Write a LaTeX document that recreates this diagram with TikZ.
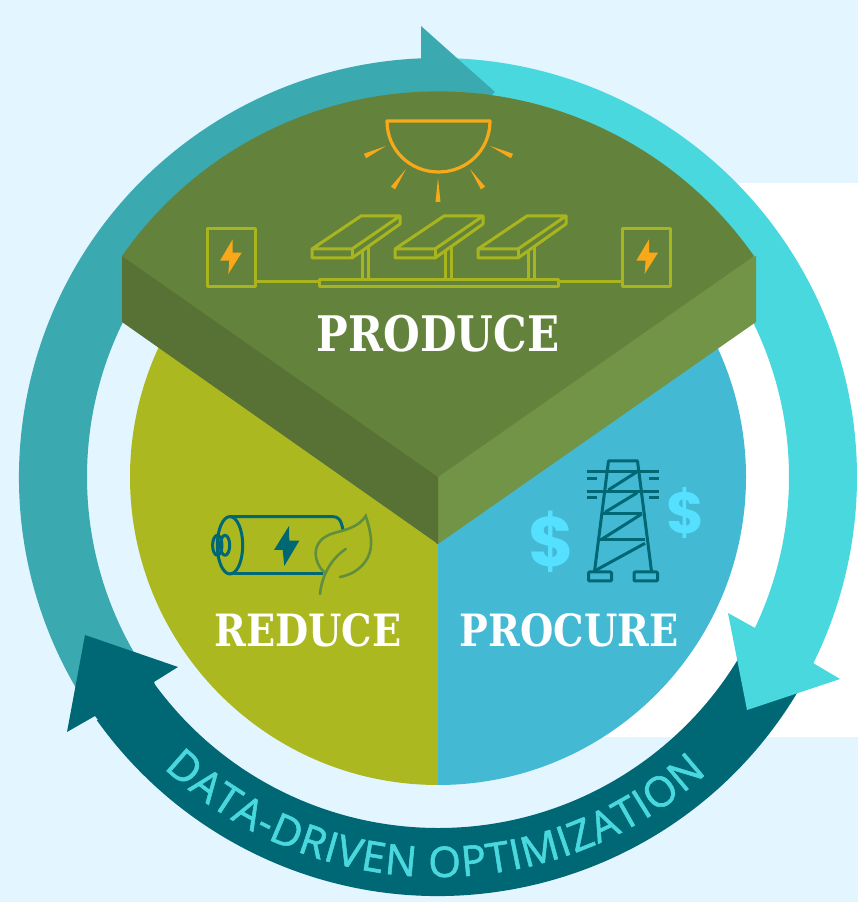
\documentclass[tikz,border=0pt]{standalone}
\usepackage{xcolor}
\usepackage{fontspec}
\usetikzlibrary{positioning, calc, decorations.text}
\setmainfont{DejaVu Serif}
\newfontfamily\ringfont{Open Sans}[FakeBold=1.3]
\newfontfamily\moneyfont{Poppins}
\newfontfamily\slabfont{DejaVu Serif}[FakeStretch=0.86]

\definecolor{pagebg}{HTML}{E3F5FF}
\definecolor{ringteal}{HTML}{3BA9B0}
\definecolor{ringcyan}{HTML}{4AD8DF}
\definecolor{ringdark}{HTML}{006875}
\definecolor{piegold}{HTML}{ABB820}
\definecolor{pieblue}{HTML}{43B9D3}
\definecolor{prodtop}{HTML}{63833C}
\definecolor{prodleft}{HTML}{587135}
\definecolor{prodright}{HTML}{719447}
\definecolor{sunorange}{HTML}{F9A81A}
\definecolor{panelgreen}{HTML}{A8B51F}
\definecolor{leafgreen}{HTML}{5F8F3E}
\definecolor{moneycyan}{HTML}{55E0FF}

\tikzset{
    pxcoords/.style={x=1pt, y=-1pt, yshift=902pt},
    panelline/.style={draw=panelgreen, line width=3pt, line join=round},
    iconline/.style={draw=ringdark, line width=3pt, line join=round},
    leafline/.style={draw=leafgreen, line width=2.6pt, line cap=round},
    pielabel/.style={text=white, font=\slabfont\bfseries\fontsize{44.5}{44.5}\selectfont, inner sep=0pt},
    moneylabel/.style={text=moneycyan, inner sep=0pt}
}

\begin{document}
\begin{tikzpicture}[x=1pt, y=1pt]
    \useasboundingbox (0,0) rectangle (858,902);
    \fill[pagebg] (0,0) rectangle (858,902);
    \fill[white] (438,165) rectangle (858,719);
    \coordinate (ctr) at (438,425);

    % Ring shafts
    \fill[ringteal] ($(ctr)+(212:419)$) arc[start angle=212, end angle=91, radius=419]
        -- ($(ctr)+(91:351)$) arc[start angle=91, end angle=212, radius=351] -- cycle;
    \fill[ringdark] ($(ctr)+(-29:419)$) arc[start angle=-29, end angle=-144.5, radius=419]
        -- ($(ctr)+(-144.5:351)$) arc[start angle=-144.5, end angle=-29, radius=351] -- cycle;
    \fill[ringcyan] ($(ctr)+(88:419)$) arc[start angle=88, end angle=-27, radius=419]
        -- ($(ctr)+(-27:351)$) arc[start angle=-27, end angle=88, radius=351] -- cycle;

    % Pie wedges
    \fill[piegold] (ctr) -- ($(ctr)+(270:308)$) arc[start angle=270, end angle=130, radius=308] -- cycle;
    \fill[pieblue] (ctr) -- ($(ctr)+(270:308)$) arc[start angle=270, end angle=410, radius=308] -- cycle;

    \begin{scope}[pxcoords]
        % Arrow heads
        \fill[ringdark] (85,635) -- (178,667) -- (154,682) -- (160,700) -- (110,735) -- (95,716) -- (67,732) -- cycle;
        \fill[ringcyan] (747,710) -- (840,679) -- (813,663) -- (790,640) -- (770,610) -- (755,628) -- (728,613) -- cycle;
        \fill[ringteal] (421,26) -- (495,92) -- (421,158) -- cycle;

        % Produce block
        \fill[prodright] (756,256) -- (756,322) -- (438,544) -- (436,544) -- (436,420) -- (600,300) -- cycle;
        \fill[prodleft] (122,256) -- (122,322) -- (438,544) -- (438,420) -- (280,300) -- cycle;
    \end{scope}
    \fill[prodtop] (ctr) -- ($(ctr)+(34.97:385.6)$) arc[start angle=34.97, end angle=145.03, radius=385.6] -- cycle;

    \begin{scope}[pxcoords]
        % Sun
        \draw[draw=sunorange, line width=3.2pt, line join=round] (387,121) -- (490,121)
            .. controls (490,150) and (467,172) .. (438.5,172)
            .. controls (410,172) and (387,150) .. (387,121) -- cycle;
        \foreach \sx/\sy/\ex/\ey in {386/146/365/156, 406/169/393/188, 438/178/438/202, 470/169/483/188, 490/146/512/156}
            \fill[sunorange] (\sx,\sy) -- ($(\ex,\ey)!2.5pt!90:(\sx,\sy)$) -- ($(\ex,\ey)!2.5pt!-90:(\sx,\sy)$) -- cycle;

        % Solar panels
        \foreach \dx in {0,83,166} {
            \draw[panelline] (361+\dx,216) -- (400+\dx,216) -- (352+\dx,249) -- (312+\dx,249) -- cycle;
            \draw[panelline] (312+\dx,249) -- (312+\dx,258) -- (352+\dx,258) -- (400+\dx,224) -- (400+\dx,216);
            \draw[panelline] (352+\dx,249) -- (352+\dx,258);
            \draw[panelline] (362+\dx,251) -- (362+\dx,279);
            \draw[panelline] (368+\dx,247) -- (368+\dx,279);
        }
        \draw[panelline] (319.5,279.5) rectangle (558,286.5);
        \draw[panelline] (207.5,229) rectangle (255.5,286.5);
        \draw[panelline] (622.5,229) rectangle (670.5,286.5);
        \draw[panelline] (255.5,282) -- (319.5,282);
        \draw[panelline] (558,282) -- (622.5,282);
        \foreach \dx in {0,416.3}
            \fill[sunorange] (232.7+\dx,239.3) -- (220+\dx,260.7) -- (229.3+\dx,260.7)
                -- (228.3+\dx,274) -- (241.7+\dx,252.7) -- (232.7+\dx,252.7) -- cycle;

        % Battery
        \draw[iconline] (230,516.7) -- (333,516.7) .. controls (338,516.7) and (341,519) .. (343,530);
        \draw[iconline] (230,574) -- (323,574);
        \draw[iconline] (230,545.3) ellipse[x radius=12.7, y radius=28.7];
        \draw[iconline] (217.3,545.3) ellipse[x radius=4.7, y radius=10];
        \draw[iconline] (225,545.3) ellipse[x radius=4.7, y radius=10];
        \fill[ringdark] (289,526) -- (274,550) -- (282.7,550) -- (284.3,566) -- (299.3,540.7) -- (289.3,540.7) -- cycle;

        % Leaf
        \draw[leafline] (325,573) .. controls (313,562) and (312,545) .. (325,537)
            .. controls (335,530) and (355,532) .. (365.7,516)
            .. controls (372,535) and (374,550) .. (365,562)
            .. controls (358,571) and (350,575) .. (340,577);
        \draw[leafline] (320,594) .. controls (322,575) and (331,559) .. (345.7,549);

        % Tower
        \draw[iconline] (594.5,571.5) -- (608.5,461) -- (637.5,461) -- (651.5,571.5);
        \draw[iconline] (586.7,471.7) -- (659.3,471.7);
        \draw[iconline] (586.7,491.7) -- (659.3,491.7);
        \foreach \ty in {478.3,497.7} {
            \draw[iconline] (586.7,\ty) -- (596.7,\ty);
            \draw[iconline] (649.3,\ty) -- (659.3,\ty);
        }
        \draw[iconline] (603.3,513.3) -- (641.7,513.3);
        \draw[iconline] (600,540) -- (645,540);
        \draw[iconline] (636.7,472) -- (608.3,490);
        \draw[iconline] (637.3,492.7) -- (605,512.3);
        \draw[iconline] (641.7,514) -- (601.7,539.3);
        \draw[iconline] (645,543.3) -- (595,570.7);
        \draw[iconline, rounded corners=1pt] (588.5,572) rectangle (611.5,581);
        \draw[iconline, rounded corners=1pt] (634,572) rectangle (657.5,581);

        % Labels
        \node (produce) [pielabel, font=\slabfont\bfseries\fontsize{49}{49}\selectfont] at (438,334) {PRODUCE};
        \node (reduce) [pielabel] at (308,630) {REDUCE};
        \node (procure) [pielabel] at (569,630) {PROCURE};
        \node (dollarbig) [moneylabel, font=\moneyfont\bfseries\fontsize{70}{70}\selectfont] at (551.7,541.7) {\$};
        \node (dollarsmall) [moneylabel, font=\moneyfont\bfseries\fontsize{58}{58}\selectfont] at (686,512.7) {\$};
    \end{scope}

    % Ring text
    \path[decorate, decoration={text along path, text align=fit to path,
        text={|\ringfont\fontsize{42}{42}\selectfont\color{ringcyan}|DATA-DRIVEN OPTIMIZATION}}]
        ($(ctr)+(226.7:400)$) arc[start angle=226.7, end angle=312.2, radius=400];
\end{tikzpicture}
\end{document}
